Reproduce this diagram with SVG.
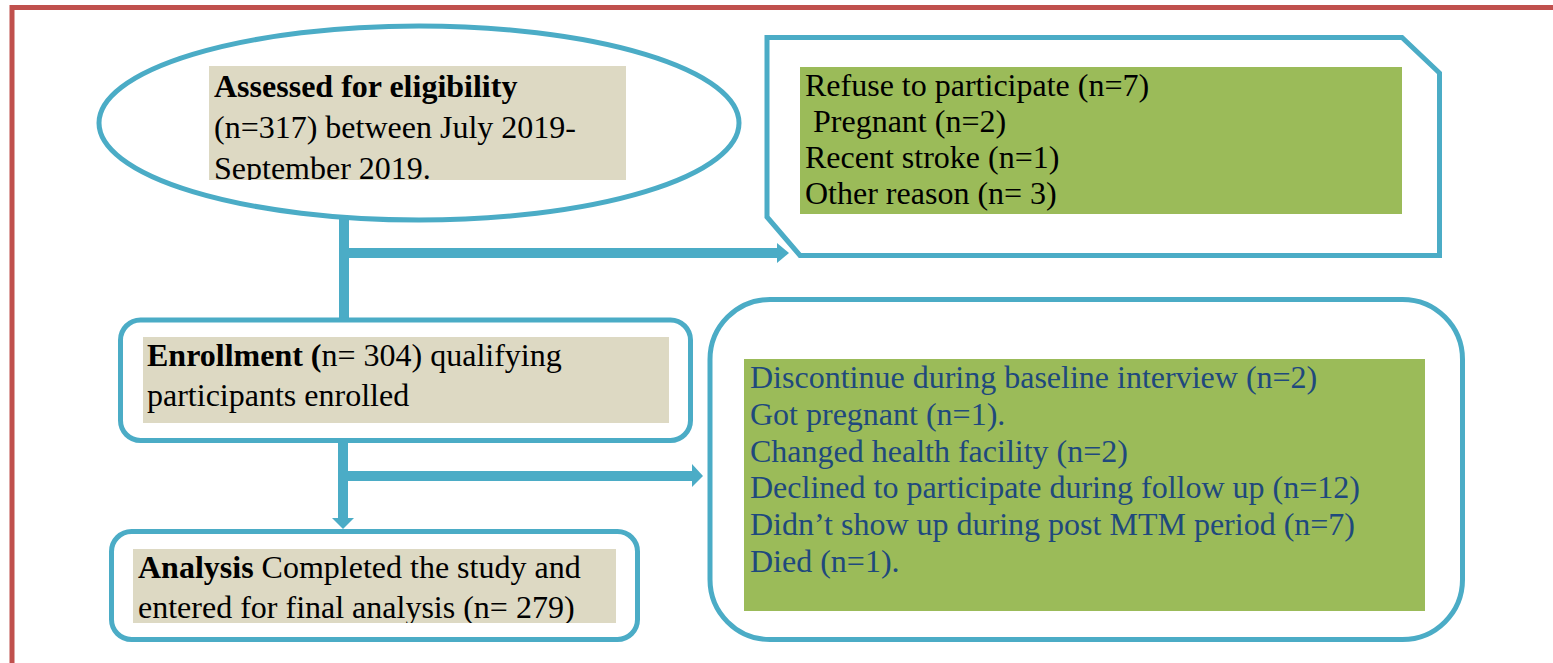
<svg xmlns="http://www.w3.org/2000/svg" width="1553" height="663" viewBox="0 0 1553 663">
<style>
.frame{fill:none;stroke:#c0504d;stroke-width:5}
.shape{fill:#fff;stroke:#4bacc6;stroke-width:5}
.beige{fill:#ddd9c3}
.green{fill:#9bbb59}
.t{font-family:"Liberation Serif","Times New Roman",serif;font-size:32px;fill:#000}
.tb{fill:#1f497d}
.b{font-weight:bold}
.line{stroke:#4bacc6;stroke-width:10;fill:none}
.head{fill:#4bacc6}
</style>
<defs>
<clipPath id="c1"><rect x="209" y="66" width="417" height="114"/></clipPath>
<clipPath id="c2"><rect x="133" y="549" width="483" height="74"/></clipPath>
</defs>
<rect width="1553" height="663" fill="#fff"/>
<path class="frame" d="M12,663 V7.5 H1553"/>
<g id="connectors">
<line class="line" x1="344" y1="218" x2="344" y2="320"/>
<line class="line" x1="344" y1="253" x2="778" y2="253"/>
<polygon class="head" points="777,243 789,253 777,263"/>
<line class="line" x1="343" y1="440" x2="343" y2="519"/>
<polygon class="head" points="332,518 343,529 354,518"/>
<line class="line" x1="343" y1="476" x2="693" y2="476"/>
<polygon class="head" points="692,464 703,476 692,487"/>
</g>
<g id="eligibility">
<ellipse class="shape" cx="419" cy="123" rx="320" ry="97" stroke-width="4.5"/>
<rect class="beige" x="209" y="66" width="417" height="114"/>
<g clip-path="url(#c1)">
<text class="t b" x="214" y="97">Assessed for eligibility</text>
<text class="t" x="214" y="138">(n=317) between July 2019-</text>
<text class="t" x="214" y="179">September 2019.</text>
</g>
</g>
<g id="excluded">
<polygon class="shape" points="767,37.5 1402,37.5 1439.5,73 1439.5,255.5 800,255.5 767,217"/>
<rect class="green" x="800" y="67" width="602" height="147"/>
<text class="t" x="805" y="96">Refuse to participate (n=7)</text>
<text class="t" x="813" y="132">Pregnant (n=2)</text>
<text class="t" x="805" y="168">Recent stroke (n=1)</text>
<text class="t" x="805" y="204">Other reason (n= 3)</text>
</g>
<g id="enrollment">
<rect class="shape" x="120.5" y="320" width="570" height="120.5" rx="20"/>
<rect class="beige" x="143" y="337" width="526" height="86"/>
<text class="t" x="147" y="366"><tspan class="b">Enrollment (</tspan>n= 304) qualifying</text>
<text class="t" x="147" y="406">participants enrolled</text>
</g>
<g id="analysis">
<rect class="shape" x="111.5" y="531.5" width="526" height="108" rx="20"/>
<rect class="beige" x="133" y="549" width="483" height="74"/>
<g clip-path="url(#c2)">
<text class="t" x="138" y="578"><tspan class="b">Analysis</tspan> Completed the study and</text>
<text class="t" x="138" y="618">entered for final analysis (n= 279)</text>
</g>
</g>
<g id="lost">
<rect class="shape" x="710" y="299.5" width="752.5" height="340" rx="60"/>
<rect class="green" x="744" y="359" width="681" height="252"/>
<text class="t tb" x="750" y="388">Discontinue during baseline interview (n=2)</text>
<text class="t tb" x="750" y="425">Got pregnant (n=1).</text>
<text class="t tb" x="750" y="462">Changed health facility (n=2)</text>
<text class="t tb" x="750" y="498">Declined to participate during follow up (n=12)</text>
<text class="t tb" x="750" y="535">Didn’t show up during post MTM period (n=7)</text>
<text class="t tb" x="750" y="572">Died (n=1).</text>
</g>
</svg>
